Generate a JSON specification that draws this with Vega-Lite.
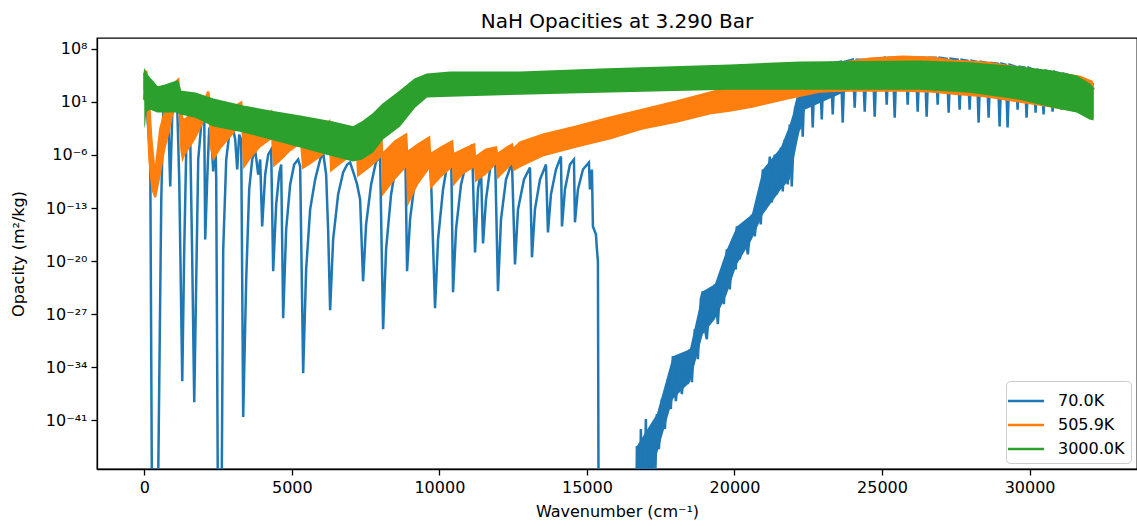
{
  "$schema": "https://vega.github.io/schema/vega-lite/v6.json",
  "autosize": {"type": "none"},
  "padding": {"left": 97, "top": 38, "right": 0, "bottom": 57},
  "width": 1040,
  "height": 431,
  "title": {"text": "NaH Opacities at 3.290 Bar"},
  "datasets": {
    "b": [{"w":0,"k":6.9e4},{"w":34,"k":89},{"w":102,"k":0.21},{"w":203,"k":2.5e-7},{"w":271,"k":1e-60},{"w":440,"k":1e-60},{"w":576,"k":1.3e-12},{"w":643,"k":0.51},{"w":745,"k":11},{"w":813,"k":0.046},{"w":880,"k":6.9e-11},{"w":948,"k":0.21},{"w":1050,"k":4.3},{"w":1117,"k":1.7},{"w":1185,"k":5.8e-10},{"w":1287,"k":1.5e-36},{"w":1354,"k":3.5e-19},{"w":1422,"k":5.1e-6},{"w":1490,"k":0.083},{"w":1558,"k":1.1e-4},{"w":1625,"k":1.7e-20},{"w":1693,"k":2.6e-39},{"w":1761,"k":4.1e-23},{"w":1828,"k":2.5e-7},{"w":1930,"k":0.01},{"w":2032,"k":0.083},{"w":2065,"k":7.4e-18},{"w":2133,"k":5.8e-10},{"w":2201,"k":4.1e-3},{"w":2269,"k":4.8e-4},{"w":2336,"k":6.6e-9},{"w":2404,"k":2.2e-3},{"w":2438,"k":5.8e-10},{"w":2506,"k":1e-60},{"w":2607,"k":1e-60},{"w":2675,"k":3.5e-19},{"w":2777,"k":2.5e-7},{"w":2878,"k":4.8e-4},{"w":2980,"k":0.01},{"w":3081,"k":1.1e-4},{"w":3149,"k":1.2e-8},{"w":3217,"k":4.8e-4},{"w":3284,"k":1.1e-4},{"w":3352,"k":2.8e-41},{"w":3454,"k":4.1e-23},{"w":3555,"k":2.8e-11},{"w":3657,"k":2.5e-7},{"w":3758,"k":5.1e-6},{"w":3860,"k":2.6e-9},{"w":3928,"k":2.5e-7},{"w":3995,"k":3.8e-16},{"w":4097,"k":2.6e-9},{"w":4199,"k":1.1e-6},{"w":4300,"k":5.1e-6},{"w":4368,"k":4.6e-22},{"w":4470,"k":3e-13},{"w":4571,"k":2.6e-9},{"w":4639,"k":5.5e-8},{"w":4707,"k":3e-28},{"w":4808,"k":1.5e-16},{"w":4944,"k":1.3e-10},{"w":5079,"k":5.5e-8},{"w":5214,"k":2.5e-7},{"w":5282,"k":3e-8},{"w":5384,"k":1.7e-35},{"w":5485,"k":8.3e-22},{"w":5621,"k":6.6e-14},{"w":5790,"k":5.8e-10},{"w":5959,"k":2.5e-7},{"w":6061,"k":2.1e-6},{"w":6163,"k":2.6e-9},{"w":6230,"k":1.5e-16},{"w":6298,"k":3.4e-27},{"w":6400,"k":7.4e-18},{"w":6569,"k":6.2e-12},{"w":6738,"k":4.8e-9},{"w":6874,"k":5.5e-8},{"w":6975,"k":1e-7},{"w":7111,"k":2.6e-9},{"w":7212,"k":1.3e-10},{"w":7314,"k":1.3e-12},{"w":7415,"k":2.2e-23},{"w":7517,"k":6.9e-16},{"w":7686,"k":1.3e-10},{"w":7855,"k":1.4e-7},{"w":7991,"k":4.6e-7},{"w":8093,"k":1.1e-29},{"w":8194,"k":3.5e-19},{"w":8363,"k":6.2e-12},{"w":8533,"k":5.5e-8},{"w":8702,"k":2.3e-5},{"w":8837,"k":4.8e-4},{"w":8905,"k":4.6e-22},{"w":9007,"k":3.2e-15},{"w":9176,"k":5.8e-10},{"w":9413,"k":1.1e-6},{"w":9616,"k":1.1e-4},{"w":9718,"k":5.8e-10},{"w":9853,"k":6.2e-27},{"w":9955,"k":7.4e-18},{"w":10124,"k":2.8e-11},{"w":10293,"k":2.5e-7},{"w":10395,"k":4.3e-5},{"w":10463,"k":7.9e-25},{"w":10564,"k":1.5e-16},{"w":10734,"k":1.3e-10},{"w":10937,"k":2.5e-7},{"w":11106,"k":2.3e-5},{"w":11208,"k":1.4e-19},{"w":11309,"k":2.8e-11},{"w":11411,"k":1.2e-8},{"w":11479,"k":2.2e-18},{"w":11580,"k":1.3e-12},{"w":11716,"k":1.2e-8},{"w":11885,"k":2.8e-6},{"w":11986,"k":1.1e-24},{"w":12088,"k":3.2e-15},{"w":12257,"k":5.8e-10},{"w":12460,"k":1e-7},{"w":12562,"k":3.8e-21},{"w":12664,"k":6.6e-14},{"w":12867,"k":5.8e-10},{"w":13070,"k":2.2e-8},{"w":13138,"k":3.2e-20},{"w":13239,"k":6.6e-14},{"w":13409,"k":5.8e-10},{"w":13612,"k":5.5e-8},{"w":13679,"k":6.2e-17},{"w":13781,"k":6.2e-12},{"w":13950,"k":1.2e-8},{"w":14120,"k":6.2e-7},{"w":14154,"k":3.8e-16},{"w":14255,"k":2.8e-11},{"w":14424,"k":5.5e-8},{"w":14560,"k":2.5e-7},{"w":14594,"k":1.3e-15},{"w":14695,"k":2.8e-11},{"w":14865,"k":1.2e-8},{"w":15068,"k":1e-7},{"w":15102,"k":2.8e-11},{"w":15169,"k":1.2e-8},{"w":15203,"k":3.8e-16},{"w":15305,"k":3.4e-17},{"w":15339,"k":3.5e-19},{"w":15372,"k":9.4e-21},{"w":15400,"k":1e-60},{"w":16659,"k":1e-60},{"w":16693,"k":4.3e-45},{"w":16760,"k":1e-60},{"w":16828,"k":7.4e-43},{"w":16896,"k":1e-60},{"w":16998,"k":1.5e-41},{"w":17065,"k":1e-60},{"w":17167,"k":7.4e-43},{"w":17235,"k":1e-60},{"w":17370,"k":6.9e-41},{"w":17438,"k":1.7e-45},{"w":17539,"k":6.6e-39},{"w":17641,"k":7.4e-43},{"w":17743,"k":2.8e-36},{"w":17844,"k":3.2e-40},{"w":17912,"k":3e-33},{"w":18013,"k":3.5e-39},{"w":18115,"k":5.8e-35},{"w":18217,"k":3e-38},{"w":18318,"k":5.5e-33},{"w":18420,"k":6.2e-37},{"w":18488,"k":2.5e-32},{"w":18556,"k":1.1e-36},{"w":18657,"k":1.1e-29},{"w":18759,"k":1.2e-33},{"w":18860,"k":9.4e-26},{"w":18928,"k":1.1e-24},{"w":18996,"k":1.1e-29},{"w":19063,"k":5.1e-31},{"w":19165,"k":9.4e-26},{"w":19267,"k":2.2e-28},{"w":19334,"k":8.9e-24},{"w":19436,"k":4.8e-29},{"w":19537,"k":1.8e-22},{"w":19639,"k":2.1e-26},{"w":19740,"k":3.5e-19},{"w":19842,"k":1.9e-24},{"w":19943,"k":7.4e-18},{"w":20045,"k":8.3e-22},{"w":20079,"k":3.8e-16},{"w":20181,"k":1.7e-20},{"w":20316,"k":6.9e-16},{"w":20452,"k":7.8e-20},{"w":20587,"k":1.4e-14},{"w":20689,"k":1.8e-17},{"w":20790,"k":1.3e-12},{"w":20892,"k":6.9e-16},{"w":20960,"k":1.2e-8},{"w":21061,"k":6.6e-14},{"w":21197,"k":6.2e-7},{"w":21264,"k":5.5e-13},{"w":21366,"k":1.1e-6},{"w":21434,"k":6.2e-12},{"w":21570,"k":9.4e-6},{"w":21637,"k":1.5e-11},{"w":21704,"k":1.1e-4},{"w":21806,"k":1.3e-10},{"w":21874,"k":0.01},{"w":21941,"k":6.9e-11},{"w":22043,"k":0.94},{"w":22144,"k":36},{"w":22212,"k":2.2e-3},{"w":22246,"k":8.3e3},{"w":22313,"k":2.6e-4},{"w":22381,"k":3.8e4},{"w":22585,"k":3.2e5},{"w":22652,"k":4.1e-3},{"w":22720,"k":3.2e5},{"w":22889,"k":7.8e5},{"w":22957,"k":0.046},{"w":23025,"k":7.8e5},{"w":23262,"k":1.4e6},{"w":23330,"k":0.21},{"w":23397,"k":1.4e6},{"w":23600,"k":1.9e6},{"w":23668,"k":0.018},{"w":23736,"k":1.9e6},{"w":24007,"k":3.6e6},{"w":24074,"k":1.7},{"w":24142,"k":3.6e6},{"w":24345,"k":3.6e6},{"w":24413,"k":0.51},{"w":24481,"k":3.6e6},{"w":24684,"k":3.6e6},{"w":24752,"k":0.11},{"w":24819,"k":3.6e6},{"w":25090,"k":6.6e6},{"w":25158,"k":4.3},{"w":25226,"k":6.6e6},{"w":25361,"k":6.6e6},{"w":25429,"k":0.083},{"w":25497,"k":6.6e6},{"w":25801,"k":6.6e6},{"w":25869,"k":4.3},{"w":25937,"k":6.6e6},{"w":26140,"k":6.6e6},{"w":26208,"k":0.51},{"w":26275,"k":6.6e6},{"w":26445,"k":6.6e6},{"w":26512,"k":0.11},{"w":26580,"k":6.6e6},{"w":26817,"k":6.6e6},{"w":26885,"k":4.3},{"w":26953,"k":6.6e6},{"w":27189,"k":4.8e6},{"w":27257,"k":0.38},{"w":27325,"k":4.8e6},{"w":27562,"k":3.6e6},{"w":27630,"k":0.94},{"w":27697,"k":3.6e6},{"w":27900,"k":2.6e6},{"w":27968,"k":0.94},{"w":28036,"k":2.6e6},{"w":28205,"k":1.9e6},{"w":28273,"k":0.018},{"w":28341,"k":1.9e6},{"w":28544,"k":1.4e6},{"w":28612,"k":0.083},{"w":28679,"k":1.4e6},{"w":28916,"k":1.1e6},{"w":28984,"k":5.5e-3},{"w":29052,"k":1.1e6},{"w":29187,"k":7.8e5},{"w":29255,"k":4.1e-3},{"w":29323,"k":7.8e5},{"w":29526,"k":4.3e5},{"w":29594,"k":0.94},{"w":29661,"k":4.3e5},{"w":29831,"k":3.2e5},{"w":29898,"k":0.083},{"w":29966,"k":3.2e5},{"w":30135,"k":1.7e5},{"w":30203,"k":0.38},{"w":30271,"k":1.7e5},{"w":30406,"k":1.3e5},{"w":30474,"k":0.21},{"w":30542,"k":1.3e5},{"w":30711,"k":9.4e4},{"w":30779,"k":0.51},{"w":30846,"k":9.4e4},{"w":31016,"k":5.1e4},{"w":31083,"k":0.94},{"w":31151,"k":5.1e4},{"w":31524,"k":2.1e4},{"w":31863,"k":8.3e3},{"w":32032,"k":4.6e3},{"w":32167,"k":1.8e3}],
    "bb": [{"w":16693,"k":4.3e-45,"lo":1e-60},{"w":17370,"k":6.9e-41,"lo":3.8e-46},{"w":17912,"k":3e-33,"lo":6.6e-39},{"w":18488,"k":2.5e-32,"lo":1.1e-36},{"w":18928,"k":1.1e-24,"lo":2.3e-30},{"w":19334,"k":8.9e-24,"lo":2.2e-28},{"w":19740,"k":3.5e-19,"lo":4.3e-25},{"w":20079,"k":3.8e-16,"lo":3.8e-21},{"w":20587,"k":1.4e-14,"lo":7.4e-18},{"w":20960,"k":1.2e-8,"lo":1.4e-14},{"w":21570,"k":9.4e-6,"lo":2.8e-11},{"w":21874,"k":0.01,"lo":5.8e-10},{"w":22144,"k":36,"lo":1.1e-4},{"w":22381,"k":3.8e4,"lo":0.94},{"w":23905,"k":1.9e6,"lo":400},{"w":26275,"k":6.6e6,"lo":400},{"w":28984,"k":1.1e6,"lo":89},{"w":31016,"k":5.1e4,"lo":4.3},{"w":32167,"k":1.8e3,"lo":0.083}],
    "o": [{"w":0,"k":400,"lo":19},{"w":20,"k":9.4e4,"lo":19},{"w":68,"k":9.4e4,"lo":0.94},{"w":135,"k":400,"lo":2.5e-7},{"w":237,"k":1.1e-4,"lo":2.8e-11},{"w":339,"k":1.2e-8,"lo":2.5e-12},{"w":406,"k":5.5e-8,"lo":2.5e-12},{"w":542,"k":2.2e-3,"lo":1.1e-9},{"w":711,"k":0.94,"lo":5.1e-6},{"w":880,"k":19,"lo":2.2e-3},{"w":982,"k":220,"lo":0.21},{"w":1084,"k":4.6e3,"lo":4.3},{"w":1151,"k":8.3e3,"lo":0.94},{"w":1219,"k":19,"lo":5.1e-6},{"w":1287,"k":0.046,"lo":1e-7},{"w":1388,"k":0.046,"lo":1.1e-6},{"w":1727,"k":0.94,"lo":1.1e-4},{"w":2065,"k":19,"lo":0.046},{"w":2167,"k":220,"lo":0.21},{"w":2235,"k":0.94,"lo":5.1e-6},{"w":2336,"k":0.01,"lo":1.4e-7},{"w":2573,"k":0.083,"lo":5.1e-6},{"w":2912,"k":0.94,"lo":1.9e-4},{"w":3284,"k":7.8,"lo":0.01},{"w":3352,"k":4.1e-3,"lo":1.2e-8},{"w":3589,"k":0.01,"lo":2.5e-7},{"w":3928,"k":0.083,"lo":9.4e-6},{"w":4300,"k":0.51,"lo":1.1e-4},{"w":4368,"k":1.1e-4,"lo":2.2e-8},{"w":4605,"k":4.8e-4,"lo":1.4e-7},{"w":4944,"k":7.4e-3,"lo":2.8e-6},{"w":5282,"k":0.083,"lo":2.3e-5},{"w":5350,"k":1.1e-4,"lo":1.2e-8},{"w":5621,"k":4.8e-4,"lo":5.5e-8},{"w":5959,"k":2.2e-3,"lo":4.6e-7},{"w":6264,"k":0.025,"lo":5.1e-6},{"w":6298,"k":2.3e-5,"lo":4.8e-9},{"w":6636,"k":1.1e-4,"lo":5.5e-8},{"w":7077,"k":4.1e-3,"lo":1.1e-6},{"w":7178,"k":2.2e-3,"lo":4.6e-7},{"w":7212,"k":5.1e-6,"lo":1.1e-9},{"w":7652,"k":1.1e-4,"lo":2.2e-8},{"w":8025,"k":2.2e-3,"lo":4.6e-7},{"w":8059,"k":1.1e-6,"lo":3.4e-12},{"w":8499,"k":5.8e-5,"lo":5.8e-10},{"w":8871,"k":4.8e-4,"lo":2.2e-8},{"w":8905,"k":2.1e-6,"lo":1.2e-13},{"w":9278,"k":2.3e-5,"lo":1.3e-10},{"w":9650,"k":1.9e-4,"lo":1.2e-8},{"w":9684,"k":1.1e-6,"lo":2.8e-11},{"w":10057,"k":9.4e-6,"lo":1.1e-9},{"w":10429,"k":5.8e-5,"lo":2.2e-8},{"w":10463,"k":1.1e-6,"lo":6.9e-11},{"w":10802,"k":5.1e-6,"lo":2.6e-9},{"w":11174,"k":2.3e-5,"lo":2.2e-8},{"w":11208,"k":4.6e-7,"lo":2.3e-10},{"w":11580,"k":5.1e-6,"lo":2.6e-9},{"w":11919,"k":9.4e-6,"lo":5.5e-8},{"w":11953,"k":1.1e-6,"lo":5.8e-10},{"w":12291,"k":9.4e-6,"lo":1.2e-8},{"w":12460,"k":2.3e-5,"lo":5.5e-8},{"w":12494,"k":5.1e-6,"lo":6.6e-9},{"w":12731,"k":4.3e-5,"lo":2.2e-8},{"w":13510,"k":4.8e-4,"lo":6.2e-7},{"w":14661,"k":5.5e-3,"lo":9.4e-6},{"w":15779,"k":0.083,"lo":1.1e-4},{"w":16896,"k":0.94,"lo":2.2e-3},{"w":18047,"k":11,"lo":0.018},{"w":19165,"k":160,"lo":0.21},{"w":19842,"k":740,"lo":0.51},{"w":20621,"k":8.3e3,"lo":1.7},{"w":21772,"k":9.4e4,"lo":19},{"w":22889,"k":5.8e5,"lo":160},{"w":23668,"k":1.4e6,"lo":220},{"w":24582,"k":4.8e6,"lo":220},{"w":25700,"k":8.9e6,"lo":220},{"w":26715,"k":6.6e6,"lo":160},{"w":27393,"k":2.6e6,"lo":89},{"w":28544,"k":1.4e6,"lo":36},{"w":29661,"k":3.2e5,"lo":7.8},{"w":30779,"k":6.9e4,"lo":1.7},{"w":31693,"k":2.1e4,"lo":0.38},{"w":32099,"k":4.6e3,"lo":0.083},{"w":32167,"k":400,"lo":0.046}],
    "g": [{"w":0,"k":19,"lo":3e-3},{"w":34,"k":6.9e4,"lo":0.01},{"w":68,"k":3.8e4,"lo":0.51},{"w":203,"k":8.3e3,"lo":0.94},{"w":440,"k":740,"lo":0.38},{"w":711,"k":1.3e3,"lo":0.38},{"w":1117,"k":4.6e3,"lo":0.38},{"w":1219,"k":220,"lo":0.21},{"w":1727,"k":120,"lo":0.083},{"w":2336,"k":19,"lo":5.5e-3},{"w":3352,"k":2.3,"lo":8.9e-4},{"w":4266,"k":0.51,"lo":1.1e-4},{"w":5282,"k":0.11,"lo":9.4e-6},{"w":6400,"k":0.018,"lo":6.2e-7},{"w":7077,"k":4.1e-3,"lo":1.4e-7},{"w":7381,"k":0.018,"lo":2.5e-7},{"w":7754,"k":0.21,"lo":2.1e-6},{"w":8093,"k":4.3,"lo":1.1e-4},{"w":8668,"k":220,"lo":5.5e-3},{"w":9176,"k":8.3e3,"lo":1.7},{"w":9583,"k":3.8e4,"lo":36},{"w":10361,"k":6.9e4,"lo":48},{"w":12731,"k":6.9e4,"lo":89},{"w":15440,"k":1.7e5,"lo":160},{"w":19842,"k":5.8e5,"lo":400},{"w":22212,"k":1.4e6,"lo":400},{"w":26275,"k":1.9e6,"lo":400},{"w":27968,"k":1.1e6,"lo":160},{"w":29661,"k":3.2e5,"lo":19},{"w":30779,"k":9.4e4,"lo":1.7},{"w":31591,"k":2.1e4,"lo":0.38},{"w":32032,"k":1.8e3,"lo":0.046},{"w":32167,"k":400,"lo":0.034}]
  },
  "encoding": {
    "x": {
      "field": "w", "type": "quantitative", "title": "Wavenumber (cm⁻¹)",
      "scale": {"domain": [-1602, 33640], "nice": false, "zero": false},
      "axis": {"values": [0, 5000, 10000, 15000, 20000, 25000, 30000], "format": "d", "labelFlush": false, "titlePadding": 8}
    },
    "y": {
      "field": "k", "type": "quantitative", "title": "Opacity (m²/kg)",
      "scale": {"type": "log", "domain": [4e-48, 2.6e9], "nice": false},
      "axis": {
        "values": [1e8, 10, 1e-6, 1e-13, 1e-20, 1e-27, 1e-34, 1e-41],
        "labelExpr": "datum.value > 1e5 ? '10⁸' : datum.value > 1 ? '10¹' : datum.value > 1e-9 ? '10⁻⁶' : datum.value > 1e-16 ? '10⁻¹³' : datum.value > 1e-23 ? '10⁻²⁰' : datum.value > 1e-30 ? '10⁻²⁷' : datum.value > 1e-37 ? '10⁻³⁴' : '10⁻⁴¹'",
        "titlePadding": 19
      }
    }
  },
  "layer": [
    {"data": {"name": "bb"}, "mark": {"type": "area", "clip": true, "color": "#1f77b4"}, "encoding": {"y2": {"field": "lo"}}},
    {"data": {"name": "b"}, "mark": {"type": "line", "clip": true, "strokeWidth": 2.5},
     "encoding": {"color": {"datum": "70.0K", "type": "nominal", "scale": {"domain": ["70.0K", "505.9K", "3000.0K"], "range": ["#1f77b4", "#ff7f0e", "#2ca02c"]}, "legend": {"title": null}}}},
    {"data": {"name": "o"}, "mark": {"type": "area", "clip": true, "color": "#ff7f0e"}, "encoding": {"y2": {"field": "lo"}}},
    {"data": {"name": "o"}, "mark": {"type": "line", "clip": true, "strokeWidth": 2.5}, "encoding": {"color": {"datum": "505.9K", "type": "nominal"}}},
    {"data": {"name": "g"}, "mark": {"type": "area", "clip": true, "color": "#2ca02c"}, "encoding": {"y2": {"field": "lo"}}},
    {"data": {"name": "g"}, "mark": {"type": "line", "clip": true, "strokeWidth": 2.5}, "encoding": {"color": {"datum": "3000.0K", "type": "nominal"}}}
  ],
  "config": {
    "font": "DejaVu Sans",
    "background": "#ffffff",
    "view": {"stroke": "#000000", "strokeWidth": 1.3},
    "axis": {
      "grid": false, "domainColor": "#000000", "domainWidth": 1.3, "tickColor": "#000000", "tickWidth": 1.3, "tickSize": 6,
      "labelColor": "#000000", "labelFont": "DejaVu Sans", "labelFontSize": 16, "labelPadding": 4,
      "titleFont": "DejaVu Sans", "titleFontSize": 16, "titleFontWeight": "normal", "titleColor": "#000000"
    },
    "legend": {
      "orient": "bottom-right", "offset": 6, "symbolType": "M-1.44,0H1.44", "symbolSize": 625, "symbolStrokeWidth": 2.5,
      "labelFont": "DejaVu Sans", "labelFontSize": 16, "labelColor": "#000000", "labelOffset": 18,
      "strokeColor": "#cccccc", "fillColor": "#ffffff", "padding": 6, "cornerRadius": 4, "rowPadding": 2
    },
    "title": {"font": "DejaVu Sans", "fontSize": 20, "fontWeight": "normal", "color": "#000000", "anchor": "middle", "offset": 6}
  }
}
